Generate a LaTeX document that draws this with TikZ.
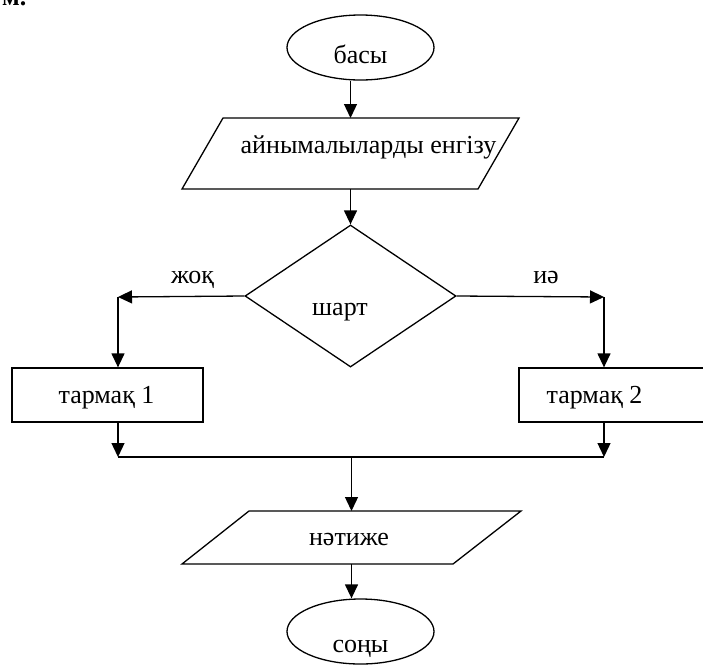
\documentclass[tikz,border=0pt]{standalone}
\usepackage{fontspec}
\setmainfont{Liberation Serif}
\usetikzlibrary{shapes.geometric,arrows.meta}
\begin{document}
\begin{tikzpicture}[x=1pt,y=-1pt,
  line width=1.3pt,
  arr/.style={-{Triangle[length=14pt,width=13pt]}},
  lbl/.style={font=\fontsize{26}{30}\selectfont, inner sep=0pt, anchor=base},
  term/.style={ellipse, draw, minimum width=147pt, minimum height=65pt, inner sep=0pt},
  proc/.style={rectangle, draw, minimum width=191pt, minimum height=54pt, inner sep=0pt},
  frame/.style={rectangle, inner sep=0pt, outer sep=0pt},
  dec/.style={diamond, draw, minimum width=211pt, minimum height=142pt, inner sep=0pt}]
\useasboundingbox (0,0) rectangle (703,665);
% shapes
\node[term] (start) at (360.5,47.5) {};
\node[frame, minimum width=337pt, minimum height=71pt] (inp) at (350.5,153.5) {};
\draw ([xshift=41pt]inp.north west) -- (inp.north east) -- ([xshift=-41pt]inp.south east) -- (inp.south west) -- cycle;
\node[dec] (cond) at (350.5,296) {};
\coordinate (cl) at (118,297);
\coordinate (cr) at (604,297);
\node[proc] (b1) at (107.5,395) {};
\node[proc] (b2) at (614.5,395) {};
\coordinate (jl) at (118,457);
\coordinate (jr) at (604,457);
\node[frame, minimum width=339pt, minimum height=53pt] (out) at (351.5,537.5) {};
\draw ([xshift=67pt]out.north west) -- (out.north east) -- ([xshift=-68pt]out.south east) -- (out.south west) -- cycle;
\node[term] (end) at (360.5,631.5) {};
% connectors
\draw[arr] (start.south -| inp.north) -- (inp.north);
\draw[arr] (inp.south) -- (cond.north);
\draw[arr] (cond.west) -- (cl);
\draw[arr] (cl) -- (cl |- b1.north);
\draw[arr] (cond.east) -- (cr);
\draw[arr] (cr) -- (cr |- b2.north);
\draw[arr] (cl |- b1.south) -- (jl);
\draw[arr] (cr |- b2.south) -- (jr);
\draw (jl) -- (jr);
\draw[arr] (out.north |- jl) -- (out.north);
\draw[arr] (out.south) -- (out.south |- end.north);
% texts
\node[lbl] (t0) at (360.5,63) {басы};
\node[lbl, anchor=base west] (t1) at (240,153) {айнымалыларды енгізу};
\node[lbl] (t2) at (340,315) {шарт};
\node[lbl] (tno) at (192.5,283) {жоқ};
\node[lbl] (tyes) at (546,283) {иә};
\node[lbl] (t3) at (106.5,403) {тармақ 1};
\node[lbl] (t4) at (594.5,403) {тармақ 2};
\node[lbl] (t5) at (349,545) {нәтиже};
\node[lbl] (t6) at (360.5,652) {соңы};
\node[lbl, anchor=base east, font=\bfseries\fontsize{26}{30}\selectfont] (frag) at (27,5) {тм.};
\end{tikzpicture}
\end{document}
